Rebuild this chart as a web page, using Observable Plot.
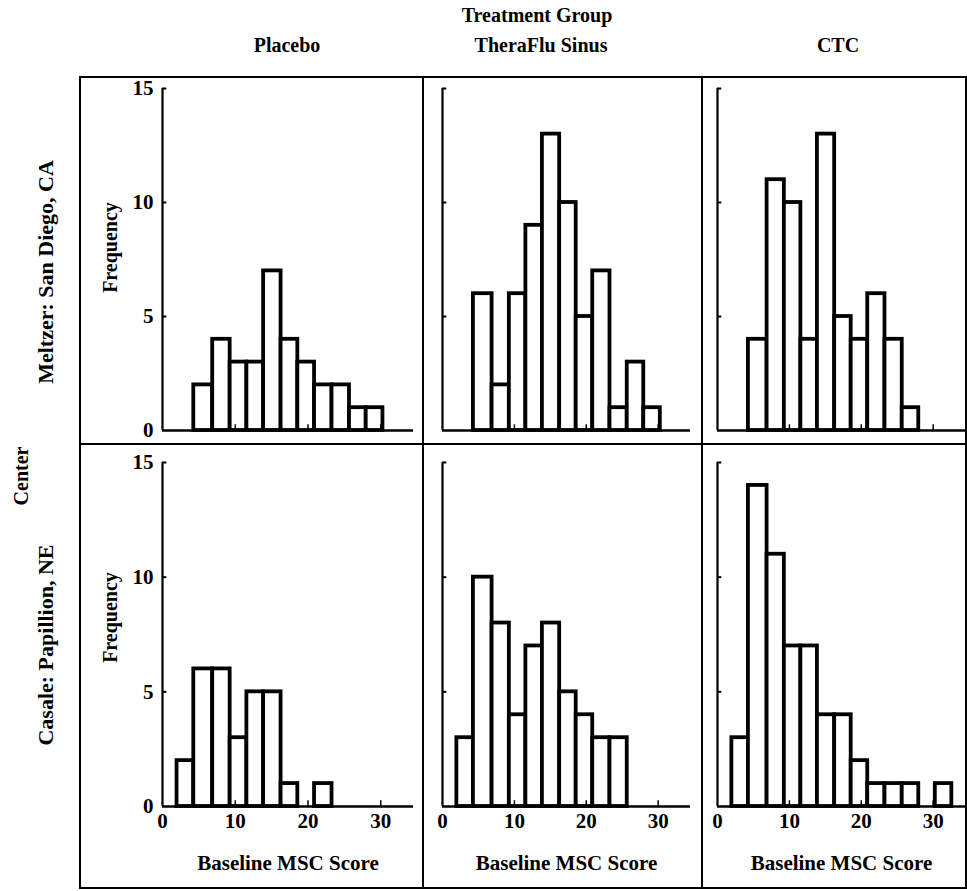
<!DOCTYPE html>
<html><head><meta charset="utf-8">
<script src="https://cdn.jsdelivr.net/npm/d3@7"></script>
<script src="https://cdn.jsdelivr.net/npm/@observablehq/plot@0.6"></script>
<style>
body{margin:0;background:#fff;}
#root{position:relative;width:967px;height:891px;font-family:"Liberation Serif",serif;font-weight:bold;color:#000;overflow:hidden;}
.lbl{position:absolute;white-space:nowrap;font-size:20px;line-height:1;transform:translate(-50%,-50%);}
.rot{transform:translate(-50%,-50%) rotate(-90deg);}
.cell{position:absolute;outline:2px solid #000;outline-offset:-1px;background:#fff;}
</style></head><body><div id="root"></div>
<script>
// ---- data ----
const treatments = ["Placebo", "TheraFlu Sinus", "CTC"];
const centers = ["Meltzer: San Diego, CA", "Casale: Papillion, NE"];
const binEdges = [2.0, 4.3, 6.9, 9.3, 11.6, 13.9, 16.3, 18.6, 20.9, 23.3, 25.7, 28.0, 30.3, 32.6];
const meltzerPlacebo  = [0, 2, 4, 3, 3, 7, 4, 3, 2, 2, 1, 1, 0];
const meltzerTheraflu = [0, 6, 2, 6, 9, 13, 10, 5, 7, 1, 3, 1, 0];
const meltzerCTC      = [0, 4, 11, 10, 4, 13, 5, 4, 6, 4, 1, 0, 0];
const casalePlacebo   = [2, 6, 6, 3, 5, 5, 1, 0, 1, 0, 0, 0, 0];
const casaleTheraflu  = [3, 10, 8, 4, 7, 8, 5, 4, 3, 3, 0, 0, 0];
const casaleCTC       = [3, 14, 11, 7, 7, 4, 4, 2, 1, 1, 1, 0, 1];
const yTicks = [0, 5, 10, 15];
const xTicks = [0, 10, 20, 30];
const xTitle = "Baseline MSC Score";
const yTitle = "Frequency";
const colTitle = "Treatment Group";
const rowTitle = "Center";

const counts = [
  [meltzerPlacebo, meltzerTheraflu, meltzerCTC],
  [casalePlacebo, casaleTheraflu, casaleCTC]
];

// ---- layout ----
const cols = [
  {left: 80, width: 343, mL: 82, mR: 10},
  {left: 423, width: 279, mL: 19, mR: 12},
  {left: 702, width: 264, mL: 15, mR: 1}
];
const rows = [
  {top: 77, height: 367, mT: 11, mB: 14, fdy: -12},
  {top: 444, height: 444, mT: 18, mB: 82, fdy: -17}
];
const font = "Liberation Serif";
const root = document.getElementById("root");

function label(text, x, y, rot, size) {
  const d = document.createElement("div");
  d.className = "lbl" + (rot ? " rot" : "");
  d.textContent = text;
  d.style.left = x + "px";
  d.style.top = y + "px";
  if (size) d.style.fontSize = size + "px";
  root.appendChild(d);
}

rows.forEach((R, r) => {
  cols.forEach((C, c) => {
    const data = counts[r][c]
      .map((n, i) => ({x1: binEdges[i], x2: binEdges[i + 1], n}))
      .filter(d => d.n > 0);
    const marks = [
      Plot.rectY(data, {x1: "x1", x2: "x2", y: "n", fill: "white", stroke: "black", strokeWidth: 3.8}),
      Plot.ruleY([0], {stroke: "black", strokeWidth: 2.5}),
      Plot.ruleX([0], {y1: 0, y2: 15, stroke: "black", strokeWidth: 2.2}),
      Plot.ruleY(yTicks.slice(1), {x1: 0, x2: 0.6, stroke: "black", strokeWidth: 2}),
      Plot.ruleX(xTicks.slice(1), {y1: 0, y2: 0.25, stroke: "black", strokeWidth: 1.5})
    ];
    if (c === 0) {
      marks.push(Plot.axisY(yTicks, {tickSize: 0, tickPadding: 9, label: null,
        fontSize: 21, fontWeight: "bold", fontFamily: font}));
      marks.push(Plot.text([yTitle], {frameAnchor: "left", dx: -52, dy: R.fdy, rotate: -90,
        textAnchor: "middle", lineAnchor: "middle",
        fontSize: 20, fontWeight: "bold", fontFamily: font, fill: "black"}));
    }
    if (r === 1) {
      marks.push(Plot.axisX(xTicks, {tickSize: 0, tickPadding: 7, label: null,
        fontSize: 21, fontWeight: "bold", fontFamily: font}));
      marks.push(Plot.text([xTitle], {frameAnchor: "bottom", dy: 57, lineAnchor: "middle",
        fontSize: 21, fontWeight: "bold", fontFamily: font, fill: "black"}));
    }
    const svg = Plot.plot({
      width: C.width, height: R.height,
      marginLeft: C.mL, marginRight: C.mR, marginTop: R.mT, marginBottom: R.mB,
      x: {domain: [0, 34.5], axis: null},
      y: {domain: [0, 15], axis: null},
      style: {fontFamily: font, fontWeight: "bold", fontSize: "20px", background: "transparent", overflow: "visible"},
      marks
    });
    const cell = document.createElement("div");
    cell.className = "cell";
    cell.style.left = C.left + "px";
    cell.style.top = R.top + "px";
    cell.style.width = C.width + "px";
    cell.style.height = R.height + "px";
    cell.appendChild(svg);
    root.appendChild(cell);
  });
});

label(colTitle, 537, 15, false, 20);
label(treatments[0], 287, 45, false, 20);
label(treatments[1], 541, 45, false, 20);
label(treatments[2], 838, 45, false, 20);
label(rowTitle, 21, 476, true, 20);
label(centers[0], 46, 272, true, 22);
label(centers[1], 46, 645, true, 22);
</script>
</body></html>
